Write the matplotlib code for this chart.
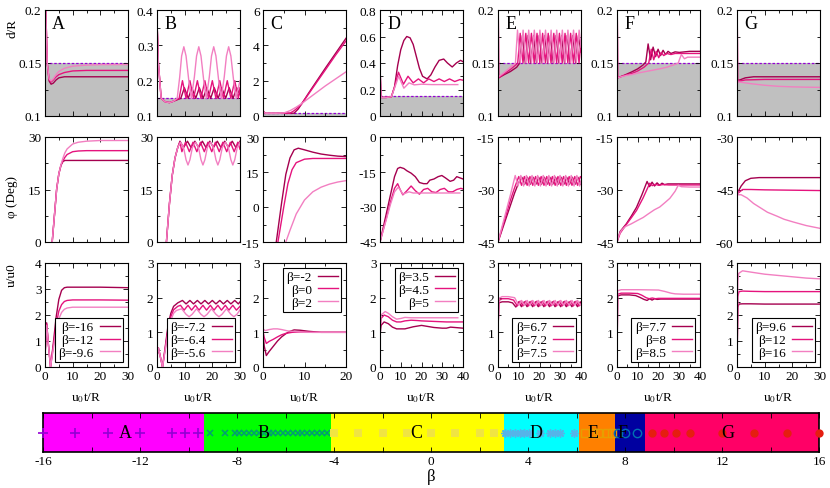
import matplotlib
matplotlib.use("Agg")
import matplotlib.pyplot as plt
from matplotlib.ticker import MultipleLocator, FuncFormatter

plt.rcParams['font.family'] = ['Liberation Serif', 'DejaVu Serif']
plt.rcParams['mathtext.fontset'] = 'stix'
plt.rcParams['axes.unicode_minus'] = False
plt.rcParams['font.size'] = 9.5

DARK, MID, LIGHT = '#a5004f', '#e5137d', '#f27fc1'
THRESH = 0.15

# ---------------- column A ----------------
tA_d = [0, 0.3, 0.8, 1.5, 2.2, 3, 4, 5, 7, 10, 15, 20, 30]
A_d_dark = [0.35, 0.2, 0.15, 0.133, 0.130, 0.131, 0.134, 0.136, 0.137, 0.137, 0.137, 0.137, 0.137]
A_d_mid = [0.35, 0.2, 0.15, 0.134, 0.132, 0.134, 0.137, 0.139, 0.141, 0.1425, 0.143, 0.143, 0.143]
A_d_light = [0.35, 0.2, 0.15, 0.135, 0.133, 0.135, 0.139, 0.142, 0.145, 0.147, 0.148, 0.1485, 0.1485]

tA_p = [0, 2.6, 3.4, 4.2, 5.0, 5.8, 6.5, 7.2, 8, 10, 12, 15, 20, 30]
A_p_dark = [-45, 0, 7.5, 15, 19.5, 22, 23, 23.3, 23.3, 23.3, 23.3, 23.3, 23.3, 23.3]
A_p_mid = [-45, 0, 7.5, 15, 19.5, 22, 23.2, 24.2, 25, 25.8, 26, 26.1, 26.1, 26.1]
A_p_light = [-45, 0, 7.5, 15, 19.5, 22.2, 24, 25.5, 26.6, 28, 28.5, 28.8, 29, 29]

tA_u = [0, 0.6, 1.2, 2.0, 3, 4, 5, 6, 7, 8, 10, 20, 30]
A_u_dark = [0.4, 1.7, 0.9, 0.0, 0.9, 1.9, 2.6, 2.95, 3.05, 3.07, 3.07, 3.07, 3.05]
A_u_mid = [0.4, 1.65, 0.9, 0.0, 0.8, 1.6, 2.15, 2.4, 2.52, 2.56, 2.58, 2.58, 2.57]
A_u_light = [0.4, 1.6, 0.9, 0.0, 0.7, 1.4, 1.85, 2.1, 2.22, 2.27, 2.3, 2.3, 2.3]

# ---------------- column B ----------------
tB_dd = [0, 0.5, 1.5, 3, 4.5, 6, 8.6, 9.9, 11.3, 12.6, 14.0, 15.3, 16.7, 18.0, 19.4, 20.7,
         22.1, 23.4, 24.8, 26.1, 27.5, 28.8, 30]
B_d_dark = [0.37, 0.25, 0.15, 0.14, 0.138, 0.142, 0.15, 0.18, 0.15, 0.18, 0.15, 0.18, 0.15,
            0.18, 0.15, 0.18, 0.15, 0.18, 0.15, 0.18, 0.15, 0.18, 0.16]
tB_dm = [0, 0.5, 1.5, 3, 4.5, 6, 8.0, 9.2, 10.5, 11.9, 13.2, 14.6, 15.9, 17.3, 18.6, 20.0,
         21.3, 22.7, 24.0, 25.4, 26.7, 28.1, 29.4, 30]
B_d_mid = [0.37, 0.25, 0.15, 0.14, 0.138, 0.142, 0.15, 0.2, 0.15, 0.2, 0.15, 0.2, 0.15, 0.2,
           0.15, 0.2, 0.15, 0.2, 0.15, 0.2, 0.15, 0.2, 0.15, 0.18]
tB_dl = [0, 0.5, 1.5, 3, 4.5, 6, 7.3, 8.2, 8.9, 9.7, 10.5, 11.5, 12.4, 13.5, 14.3, 15.1, 15.9,
         16.9, 17.8, 18.9, 19.7, 20.5, 21.3, 22.3, 23.2, 24.3, 25.1, 25.9, 26.7, 27.7, 28.6,
         29.4, 30]
B_d_light = [0.37, 0.25, 0.15, 0.14, 0.138, 0.142, 0.15, 0.21, 0.27, 0.296, 0.27, 0.2, 0.15,
             0.21, 0.27, 0.296, 0.27, 0.2, 0.15, 0.21, 0.27, 0.296, 0.27, 0.2, 0.15, 0.21,
             0.27, 0.296, 0.27, 0.2, 0.15, 0.18, 0.2]

tB_pd = [0, 3.4, 4.5, 5.5, 6.5, 7.5, 8.3, 9.6, 11.0, 12.3, 13.7, 15.0, 16.4, 17.7, 19.1,
         20.4, 21.8, 23.1, 24.5, 25.8, 27.2, 28.5, 30]
B_p_dark = [-45, 0, 11, 19, 24, 27, 28.8, 27, 28.8, 27, 28.8, 27, 28.8, 27, 28.8, 27, 28.8,
            27, 28.8, 27, 28.8, 27, 28.8]
tB_pm = [0, 3.4, 4.5, 5.5, 6.5, 7.5, 8.3, 9.0, 10.3, 11.7, 13.0, 14.4, 15.7, 17.1, 18.4,
         19.8, 21.1, 22.5, 23.8, 25.2, 26.5, 27.9, 29.2, 30]
B_p_mid = [-45, 0, 11, 19, 24, 27, 28.5, 25.8, 28.5, 25.8, 28.5, 25.8, 28.5, 25.8, 28.5,
           25.8, 28.5, 25.8, 28.5, 25.8, 28.5, 25.8, 28.5, 26.5]
tB_pl = [0, 3.4, 4.5, 5.5, 6.5, 7.5, 8.5, 9.6, 10.5, 11.2, 11.9, 12.8, 13.9, 15.0, 15.9,
         16.6, 17.3, 18.2, 19.3, 20.4, 21.3, 22.0, 22.7, 23.6, 24.7, 25.8, 26.7, 27.4, 28.1,
         29.0, 30]
B_p_light = [-45, 0, 11, 19, 24, 27, 28.5, 27, 23.5, 22, 23.5, 27, 28.5, 27, 23.5, 22, 23.5,
             27, 28.5, 27, 23.5, 22, 23.5, 27, 28.5, 27, 23.5, 22, 23.5, 27, 28.5]

tB_ud = [0, 0.5, 1.2, 2, 3, 4, 5, 6, 7.5, 9.2, 10.5, 11.9, 13.2, 14.6, 15.9, 17.3, 18.6,
         20.0, 21.3, 22.7, 24.0, 25.4, 26.7, 28.1, 29.4, 30]
B_u_dark = [0.3, 0.55, 0.3, 0, 0.6, 1.2, 1.55, 1.75, 1.85, 1.92, 1.82, 1.92, 1.82, 1.92,
            1.82, 1.92, 1.82, 1.92, 1.82, 1.92, 1.82, 1.92, 1.82, 1.92, 1.82, 1.88]
tB_um = [0, 0.5, 1.2, 2, 3, 4, 5, 6, 7.5, 8.5, 9.8, 11.2, 12.5, 13.9, 15.2, 16.6, 17.9,
         19.3, 20.6, 22.0, 23.3, 24.7, 26.0, 27.4, 28.7, 30]
B_u_mid = [0.3, 0.55, 0.3, 0, 0.55, 1.1, 1.45, 1.65, 1.75, 1.78, 1.64, 1.78, 1.64, 1.78,
           1.64, 1.78, 1.64, 1.78, 1.64, 1.78, 1.64, 1.78, 1.64, 1.78, 1.64, 1.75]
tB_ul = [0, 0.5, 1.2, 2, 3, 4, 5, 6, 7, 8.9, 10.5, 11.6, 12.7, 14.3, 15.9, 17.0, 18.1, 19.7,
         21.3, 22.4, 23.5, 25.1, 26.7, 27.8, 28.9, 30]
B_u_light = [0.3, 0.55, 0.3, 0, 0.5, 1.0, 1.35, 1.55, 1.63, 1.68, 1.52, 1.45, 1.52, 1.68,
             1.52, 1.45, 1.52, 1.68, 1.52, 1.45, 1.52, 1.68, 1.52, 1.45, 1.52, 1.65]

# ---------------- column C ----------------
tC_dd = [0, 0.5, 3, 7.5, 8.5, 9.3, 11, 13, 15, 17.5, 20]
C_d_dark = [0.3, 0.15, 0.15, 0.16, 0.4, 0.68, 1.3, 2.0, 2.7, 3.55, 4.4]
tC_dm = [0, 0.5, 3, 6.5, 7.5, 8.5, 9.3, 11, 13, 15, 17.5, 20]
C_d_mid = [0.3, 0.15, 0.15, 0.16, 0.3, 0.5, 0.68, 1.25, 1.93, 2.6, 3.45, 4.25]
tC_dl = [0, 0.5, 3, 5, 6.5, 8, 9.3, 11, 13, 15, 17.5, 20]
C_d_light = [0.3, 0.15, 0.15, 0.17, 0.3, 0.5, 0.7, 1.0, 1.35, 1.7, 2.1, 2.5]

tC_pd = [0, 3.2, 4.5, 5.5, 6.5, 7.5, 8.5, 10, 12, 14, 16, 18, 20]
C_p_dark = [-45, -15, 2, 14, 21, 24.5, 25.2, 24.5, 23.5, 22.7, 22.2, 21.8, 21.6]
tC_pm = [0, 3.6, 5, 6, 7, 8, 10, 12, 15, 20]
C_p_mid = [-45, -15, 0, 10, 16, 19, 20.5, 20.8, 20.8, 20.8]
tC_pl = [0, 5.5, 6.5, 8, 10, 12, 14, 16, 18, 20]
C_p_light = [-45, -15, -10, -3, 3, 6.5, 8.5, 9.8, 10.7, 11.3]

tC_ud = [0, 0.3, 0.8, 1.5, 2.5, 3.5, 4.5, 5.5, 6.5, 7.5, 9, 11, 14, 20]
C_u_dark = [1.0, 0.6, 0.33, 0.45, 0.6, 0.75, 0.87, 0.96, 1.03, 1.07, 1.06, 1.03, 1.0, 1.0]
tC_um = [0, 0.3, 0.8, 1.5, 2.5, 3.5, 4.5, 5.5, 7, 9, 12, 20]
C_u_mid = [1.05, 0.85, 0.68, 0.74, 0.8, 0.87, 0.93, 0.97, 1.0, 1.01, 1.0, 1.0]
tC_ul = [0, 0.5, 1.5, 2.5, 3.5, 4.5, 6, 8, 10, 14, 20]
C_u_light = [1.1, 1.05, 1.08, 1.1, 1.1, 1.08, 1.04, 1.02, 1.0, 1.0, 1.0]

# ---------------- column D ----------------
tD_dd = [0, 0.5, 3, 5.5, 7, 8.5, 10, 11.5, 12.9, 14.5, 16, 17.5, 19, 20.5, 22.7, 24.5, 26.5,
         28.5, 30.7, 32.5, 34.8, 36.8, 38.8, 40]
D_d_dark = [0.37, 0.14, 0.14, 0.145, 0.22, 0.38, 0.5, 0.57, 0.60, 0.59, 0.54, 0.45, 0.36, 0.3,
            0.28, 0.31, 0.37, 0.42, 0.43, 0.40, 0.37, 0.40, 0.42, 0.41]
tD_dm = [0, 0.5, 3, 5.5, 7, 8.9, 11.3, 13.5, 16, 18.5, 21, 23.5, 26, 28.5, 31, 33.5, 36, 38.5, 40]
D_d_mid = [0.37, 0.14, 0.14, 0.145, 0.22, 0.33, 0.24, 0.30, 0.25, 0.28, 0.25, 0.28, 0.26, 0.28,
           0.26, 0.28, 0.26, 0.275, 0.27]
tD_dl = [0, 0.5, 3, 5.5, 7, 9, 11.5, 14, 16.5, 20, 25, 30, 35, 37.5]
D_d_light = [0.37, 0.14, 0.14, 0.145, 0.21, 0.30, 0.21, 0.25, 0.235, 0.24, 0.237, 0.237, 0.237, 0.237]

tD_pd = [0, 3, 5, 7, 8.5, 9.7, 11.5, 13, 15, 17, 19, 21, 22.7, 24, 26, 28, 29.8, 31.5, 33.8,
         35.5, 37, 38.5, 40]
D_p_dark = [-45, -33, -25, -17, -13.5, -13, -13.5, -14.5, -15.5, -17, -19.5, -20, -20, -18.5,
            -18, -17, -16.5, -17.5, -19, -18.5, -17, -17.5, -18]
tD_pm = [0, 3, 5, 7, 8.5, 9.7, 11, 13, 15, 17, 19, 21, 23, 25, 27, 29, 31, 33, 35, 37, 39, 40]
D_p_mid = [-45, -35, -28, -22, -20, -22.5, -24.8, -23, -21, -23, -24.5, -22.5, -22, -23.5,
           -23.8, -22.5, -22, -23.5, -23.5, -22.5, -22, -22.3]
tD_pl = [0, 3, 5, 7, 8.8, 10, 11, 12.5, 14, 16, 20, 25, 30, 35, 38.5]
D_p_light = [-45, -35.5, -29, -23.5, -21.5, -23, -24.5, -24, -23.5, -24, -24, -24, -24, -24, -24]

tD_ud = [0, 0.5, 2, 4, 6, 8, 10, 12, 14, 16, 18, 20, 22, 24, 26, 28, 30, 32, 34, 36, 38, 40]
D_u_dark = [0.9, 1.2, 1.3, 1.25, 1.15, 1.1, 1.1, 1.1, 1.13, 1.16, 1.18, 1.2, 1.18, 1.16, 1.14,
            1.13, 1.12, 1.12, 1.15, 1.14, 1.13, 1.12]
tD_um = [0, 0.5, 2, 4, 6, 8, 10, 12, 15, 18, 20, 24, 28, 32, 36, 40]
D_u_mid = [1.0, 1.4, 1.5, 1.45, 1.35, 1.3, 1.3, 1.33, 1.35, 1.34, 1.33, 1.32, 1.31, 1.3, 1.3, 1.3]
tD_ul = [0, 0.5, 2.5, 4, 6, 8, 10, 12, 15, 20, 25, 30, 35, 37.5]
D_u_light = [1.1, 1.5, 1.6, 1.55, 1.45, 1.38, 1.4, 1.43, 1.42, 1.42, 1.42, 1.42, 1.42, 1.42]

# ---------------- column E ----------------
tE_dd = [0, 0.3, 3, 6, 9, 10.5, 11.8, 13.15, 14.5, 15.85, 17.2, 18.55, 19.9, 21.25, 22.6,
         23.95, 25.3, 26.65, 28.0, 29.35, 30.7, 32.05, 33.4, 34.75, 36.1, 37.45, 38.8, 40]
E_d_dark = [0.25, 0.136, 0.139, 0.142, 0.146, 0.15, 0.176, 0.15, 0.176, 0.15, 0.176, 0.15,
            0.176, 0.15, 0.176, 0.15, 0.176, 0.15, 0.176, 0.15, 0.176, 0.15, 0.176, 0.15,
            0.176, 0.15, 0.176, 0.16]
tE_dm = [0, 0.3, 3, 6, 8.5, 9.5, 10.7, 12.05, 13.4, 14.75, 16.1, 17.45, 18.8, 20.15, 21.5,
         22.85, 24.2, 25.55, 26.9, 28.25, 29.6, 30.95, 32.3, 33.65, 35.0, 36.35, 37.7, 39.05, 40]
E_d_mid = [0.25, 0.136, 0.14, 0.144, 0.148, 0.15, 0.178, 0.15, 0.178, 0.15, 0.178, 0.15,
           0.178, 0.15, 0.178, 0.15, 0.178, 0.15, 0.178, 0.15, 0.178, 0.15, 0.178, 0.15,
           0.178, 0.15, 0.178, 0.15, 0.17]
tE_dl = [0, 0.3, 3, 6, 8.4, 9.4, 10.75, 12.1, 13.45, 14.8, 16.15, 17.5, 18.85, 20.2, 21.55,
         22.9, 24.25, 25.6, 26.95, 28.3, 29.65, 31.0, 32.35, 33.7, 35.05, 36.4, 37.75, 39.1, 40]
E_d_light = [0.25, 0.137, 0.141, 0.146, 0.15, 0.181, 0.15, 0.181, 0.15, 0.181, 0.15, 0.181,
             0.15, 0.181, 0.15, 0.181, 0.15, 0.181, 0.15, 0.181, 0.15, 0.181, 0.15, 0.181,
             0.15, 0.181, 0.15, 0.181, 0.165]

tE_pd = [0, 2, 4, 6, 8, 10, 11.5, 12.85, 14.2, 15.55, 16.9, 18.25, 19.6, 20.95, 22.3, 23.65,
         25.0, 26.35, 27.7, 29.05, 30.4, 31.75, 33.1, 34.45, 35.8, 37.15, 38.5, 39.85, 40]
E_p_dark = [-45, -41.5, -38, -34.5, -31, -28, -26.5, -28.5, -26.5, -28.5, -26.5, -28.5, -26.5,
            -28.5, -26.5, -28.5, -26.5, -28.5, -26.5, -28.5, -26.5, -28.5, -26.5, -28.5,
            -26.5, -28.5, -26.5, -28.5, -28]
tE_pm = [0, 2, 4, 6, 8, 10, 11.35, 12.7, 14.05, 15.4, 16.75, 18.1, 19.45, 20.8, 22.15, 23.5,
         24.85, 26.2, 27.55, 28.9, 30.25, 31.6, 32.95, 34.3, 35.65, 37.0, 38.35, 39.7, 40]
E_p_mid = [-45, -41, -37, -33, -29.5, -26.3, -28.8, -26.3, -28.8, -26.3, -28.8, -26.3, -28.8,
           -26.3, -28.8, -26.3, -28.8, -26.3, -28.8, -26.3, -28.8, -26.3, -28.8, -26.3,
           -28.8, -26.3, -28.8, -26.3, -26.5]
tE_pl = [0, 2, 4, 6, 8.3, 9.65, 11.0, 12.35, 13.7, 15.05, 16.4, 17.75, 19.1, 20.45, 21.8,
         23.15, 24.5, 25.85, 27.2, 28.55, 29.9, 31.25, 32.6, 33.95, 35.3, 36.65, 38.0, 39.35, 40]
E_p_light = [-45, -40.5, -36, -31.5, -26, -29, -26, -29, -26, -29, -26, -29, -26, -29, -26,
             -29, -26, -29, -26, -29, -26, -29, -26, -29, -26, -29, -26, -29, -27.5]

tE_ud = [0, 0.4, 2, 5, 7, 8.6, 9.95, 11.3, 12.65, 14.0, 15.35, 16.7, 18.05, 19.4, 20.75, 22.1,
         23.45, 24.8, 26.15, 27.5, 28.85, 30.2, 31.55, 32.9, 34.25, 35.6, 36.95, 38.3, 39.65, 40]
E_u_dark = [1.0, 1.85, 1.88, 1.88, 1.85, 1.73, 1.88, 1.74, 1.88, 1.74, 1.88, 1.74, 1.88, 1.74,
            1.88, 1.74, 1.88, 1.74, 1.88, 1.74, 1.88, 1.74, 1.88, 1.74, 1.88, 1.74, 1.88,
            1.74, 1.88, 1.85]
tE_um = [0, 0.4, 2, 5, 7.5, 9.3, 10.65, 12.0, 13.35, 14.7, 16.05, 17.4, 18.75, 20.1, 21.45,
         22.8, 24.15, 25.5, 26.85, 28.2, 29.55, 30.9, 32.25, 33.6, 34.95, 36.3, 37.65, 39.0, 40]
E_u_mid = [1.0, 1.92, 1.97, 1.97, 1.93, 1.76, 1.9, 1.76, 1.9, 1.76, 1.9, 1.76, 1.9, 1.76, 1.9,
           1.76, 1.9, 1.76, 1.9, 1.76, 1.9, 1.76, 1.9, 1.76, 1.9, 1.76, 1.9, 1.76, 1.82]
tE_ul = [0, 0.4, 2, 5, 8, 10.0, 11.35, 12.7, 14.05, 15.4, 16.75, 18.1, 19.45, 20.8, 22.15,
         23.5, 24.85, 26.2, 27.55, 28.9, 30.25, 31.6, 32.95, 34.3, 35.65, 37.0, 38.35, 39.7, 40]
E_u_light = [1.0, 1.98, 2.03, 2.03, 2.0, 1.78, 1.92, 1.78, 1.92, 1.78, 1.92, 1.78, 1.92, 1.78,
             1.92, 1.78, 1.92, 1.78, 1.92, 1.78, 1.92, 1.78, 1.92, 1.78, 1.92, 1.78, 1.92,
             1.78, 1.8]

# ---------------- column F ----------------
tF_dd = [0, 0.3, 3, 7, 10, 12.5, 13.9, 15.0, 16.2, 17.4, 18.6, 19.8, 21, 22.2, 23.4, 24.6, 26,
         28, 30, 35, 40]
F_d_dark = [0.25, 0.136, 0.138, 0.1415, 0.1445, 0.148, 0.151, 0.168, 0.153, 0.165, 0.156,
            0.163, 0.157, 0.162, 0.158, 0.161, 0.159, 0.1605, 0.16, 0.161, 0.161]
tF_dm = [0, 0.3, 3, 7, 10, 13, 15.3, 16.5, 17.7, 18.9, 20.1, 21.3, 22.5, 24, 26, 28, 32, 36, 40]
F_d_mid = [0.25, 0.136, 0.138, 0.140, 0.1425, 0.146, 0.15, 0.163, 0.153, 0.161, 0.155, 0.16,
           0.157, 0.159, 0.158, 0.159, 0.159, 0.159, 0.159]
tF_dl = [0, 0.3, 2, 5, 7, 10, 14, 18, 20.6, 24, 27, 29.5, 31.0, 32.5, 34, 37, 40]
F_d_light = [0.25, 0.136, 0.137, 0.1385, 0.139, 0.1405, 0.142, 0.1435, 0.1445, 0.146, 0.148,
             0.150, 0.158, 0.154, 0.1555, 0.1555, 0.1555]

tF_pd = [0, 1.5, 4.5, 7, 9.4, 12, 14.5, 15.7, 16.9, 18.1, 19.3, 20.5, 21.7, 22.9, 24.5, 27, 30, 35, 40]
F_p_dark = [-45, -42, -39.8, -37.5, -35.1, -31.5, -27.7, -29.2, -27.9, -29.0, -28.1, -28.8,
            -28.2, -28.6, -28.4, -28.4, -28.4, -28.4, -28.4]
tF_pm = [0, 1.5, 4.5, 7, 9.4, 12.5, 15.8, 17, 18.5, 20, 22, 25, 30, 35, 40]
F_p_mid = [-45, -42.5, -40, -38, -36, -32.5, -28.2, -28.9, -28.5, -28.8, -28.6, -28.7, -28.7,
           -28.7, -28.7]
tF_pl = [0, 1, 2.1, 4, 6.9, 10, 12.6, 15, 18, 20.6, 23, 25.5, 28, 29.5, 31, 35, 40]
F_p_light = [-45, -43, -41.7, -40.6, -39.8, -38.8, -38, -37, -35.8, -35, -33.8, -32.5, -30.5,
             -28.8, -29.2, -29.3, -29.3]

tF_ud = [0, 0.3, 2, 6, 9, 11, 13, 14.5, 15.7, 16.9, 18.1, 19.3, 21, 25, 30, 40]
F_u_dark = [0, 2.05, 2.08, 2.08, 2.06, 2.01, 1.95, 1.92, 1.97, 1.93, 1.97, 1.95, 1.96, 1.96, 1.96, 1.96]
tF_um = [0, 0.3, 2, 6, 10, 12, 14, 15.5, 17, 18.5, 20, 24, 30, 40]
F_u_mid = [0, 2.1, 2.13, 2.13, 2.12, 2.07, 2.0, 1.97, 1.99, 1.97, 1.98, 1.98, 1.98, 1.98]
tF_ul = [0, 0.3, 2, 10, 20, 23, 26, 28, 32, 36, 40]
F_u_light = [0, 2.2, 2.23, 2.23, 2.22, 2.18, 2.13, 2.11, 2.1, 2.1, 2.1]

# ---------------- column G ----------------
tG_dd = [0, 0.2, 1, 3, 6, 10, 20, 30]
G_d_dark = [0.25, 0.134, 0.134, 0.136, 0.137, 0.137, 0.137, 0.137]
tG_dm = [0, 0.2, 1, 3, 10, 20, 30]
G_d_mid = [0.25, 0.133, 0.133, 0.134, 0.1345, 0.1345, 0.1345]
tG_dl = [0, 0.2, 1, 5, 10, 15, 20, 25, 30]
G_d_light = [0.25, 0.132, 0.132, 0.1305, 0.129, 0.128, 0.1275, 0.1272, 0.127]

tG_pd = [0, 0.5, 1.5, 3, 5, 8, 15, 30]
G_p_dark = [-45, -45.5, -44, -42.5, -41.8, -41.6, -41.6, -41.6]
tG_pm = [0, 0.5, 2, 5, 10, 20, 30]
G_p_mid = [-45, -46, -45, -45, -45.1, -45.2, -45.3]
tG_pl = [0, 0.5, 1.5, 3.6, 6, 8.4, 11, 14.4, 17, 20.4, 25, 30]
G_p_light = [-45, -46.5, -46.5, -47.4, -49, -50.2, -51.5, -52.6, -53.5, -54.3, -55.3, -56.1]

tG_ud = [0, 0.3, 0.7, 2, 5, 10, 20, 30]
G_u_dark = [0, 2.3, 2.42, 2.43, 2.43, 2.42, 2.42, 2.42]
tG_um = [0, 0.3, 0.7, 2, 5, 10, 20, 30]
G_u_mid = [0, 2.7, 2.9, 2.92, 2.91, 2.9, 2.9, 2.9]
tG_ul = [0, 0.3, 0.6, 2, 5, 10, 15, 20, 25, 30]
G_u_light = [0, 3.3, 3.6, 3.7, 3.65, 3.57, 3.52, 3.47, 3.42, 3.39]

# legends
labels_A = ['β=-16', 'β=-12', 'β=-9.6']
labels_B = ['β=-7.2', 'β=-6.4', 'β=-5.6']
labels_C = ['β=-2', 'β=0', 'β=2']
labels_D = ['β=3.5', 'β=4.5', 'β=5']
labels_E = ['β=6.7', 'β=7.2', 'β=7.5']
labels_F = ['β=7.7', 'β=8', 'β=8.5']
labels_G = ['β=9.6', 'β=12', 'β=16']

# phase diagram strip
region_names = ['A', 'B', 'C', 'D', 'E', 'F', 'G']
region_edges = [-16, -9.35, -4.13, 3.0, 6.12, 7.57, 8.82, 16]
region_colors = ['#ff00ff', '#00ff00', '#ffff00', '#00ffff', '#ff8000', '#0000a0', '#ff0066']
region_label_x = [-12.6, -6.9, -0.6, 4.35, 6.7, 7.9, 12.25]
beta_A = [-16, -14.67, -13.33, -12, -10.67, -10.13, -9.6]
beta_B = [-9.1, -8.5, -8.1, -7.9, -7.7, -7.5, -7.3, -7.1, -6.9, -6.7, -6.5, -6.3, -6.1, -5.9,
          -5.7, -5.5, -5.3, -5.1, -4.9, -4.7, -4.5, -4.3]
beta_C = [-4, -3, -2, -1, 0, 1, 2, 2.6]
beta_D = [3.05, 3.25, 3.45, 3.65, 3.85, 4.05, 4.5, 4.9, 5.1, 5.3, 5.9]
beta_E = [6.35, 6.7, 6.9, 7.25, 7.45]
beta_F = [7.7, 8.0, 8.5]
beta_G = [9.1, 9.6, 10.1, 10.7, 12, 13.3, 14.7, 16]

columns = {
    'A': dict(xmax=30, d=[(tA_d, A_d_dark), (tA_d, A_d_mid), (tA_d, A_d_light)],
              p=[(tA_p, A_p_dark), (tA_p, A_p_mid), (tA_p, A_p_light)],
              u=[(tA_u, A_u_dark), (tA_u, A_u_mid), (tA_u, A_u_light)],
              dlim=(0.1, 0.2, 0.05), plim=(0, 30, 15), ulim=(0, 4, 1), labels=labels_A, loc='lower right'),
    'B': dict(xmax=30, d=[(tB_dd, B_d_dark), (tB_dm, B_d_mid), (tB_dl, B_d_light)],
              p=[(tB_pd, B_p_dark), (tB_pm, B_p_mid), (tB_pl, B_p_light)],
              u=[(tB_ud, B_u_dark), (tB_um, B_u_mid), (tB_ul, B_u_light)],
              dlim=(0.1, 0.4, 0.1), plim=(0, 30, 15), ulim=(0, 3, 1), labels=labels_B, loc='lower right'),
    'C': dict(xmax=20, d=[(tC_dd, C_d_dark), (tC_dm, C_d_mid), (tC_dl, C_d_light)],
              p=[(tC_pd, C_p_dark), (tC_pm, C_p_mid), (tC_pl, C_p_light)],
              u=[(tC_ud, C_u_dark), (tC_um, C_u_mid), (tC_ul, C_u_light)],
              dlim=(0, 6, 2), plim=(-15, 30, 15), ulim=(0, 3, 1), labels=labels_C, loc='upper right'),
    'D': dict(xmax=40, d=[(tD_dd, D_d_dark), (tD_dm, D_d_mid), (tD_dl, D_d_light)],
              p=[(tD_pd, D_p_dark), (tD_pm, D_p_mid), (tD_pl, D_p_light)],
              u=[(tD_ud, D_u_dark), (tD_um, D_u_mid), (tD_ul, D_u_light)],
              dlim=(0, 0.8, 0.2), plim=(-45, 0, 15), ulim=(0, 3, 1), labels=labels_D, loc='upper right'),
    'E': dict(xmax=40, d=[(tE_dd, E_d_dark), (tE_dm, E_d_mid), (tE_dl, E_d_light)],
              p=[(tE_pd, E_p_dark), (tE_pm, E_p_mid), (tE_pl, E_p_light)],
              u=[(tE_ud, E_u_dark), (tE_um, E_u_mid), (tE_ul, E_u_light)],
              dlim=(0.1, 0.2, 0.05), plim=(-45, -15, 15), ulim=(0, 3, 1), labels=labels_E, loc='lower right'),
    'F': dict(xmax=40, d=[(tF_dd, F_d_dark), (tF_dm, F_d_mid), (tF_dl, F_d_light)],
              p=[(tF_pd, F_p_dark), (tF_pm, F_p_mid), (tF_pl, F_p_light)],
              u=[(tF_ud, F_u_dark), (tF_um, F_u_mid), (tF_ul, F_u_light)],
              dlim=(0.1, 0.2, 0.05), plim=(-45, -15, 15), ulim=(0, 3, 1), labels=labels_F, loc='lower right'),
    'G': dict(xmax=30, d=[(tG_dd, G_d_dark), (tG_dm, G_d_mid), (tG_dl, G_d_light)],
              p=[(tG_pd, G_p_dark), (tG_pm, G_p_mid), (tG_pl, G_p_light)],
              u=[(tG_ud, G_u_dark), (tG_um, G_u_mid), (tG_ul, G_u_light)],
              dlim=(0.1, 0.2, 0.05), plim=(-60, -30, 15), ulim=(0, 4, 1), labels=labels_G, loc='lower right'),
}

W, H = 830, 489
COL_LEFT = [45, 157, 263, 380, 498, 617, 737]
COL_W = 83
ROW_TOP = [11, 138, 264]
ROW_H = [106, 105, 104]

fig = plt.figure(figsize=(W / 100, H / 100), dpi=100)


def px_axes(left, top, w, h):
    return fig.add_axes([left / W, 1 - (top + h) / H, w / W, h / H])


fmt = FuncFormatter(lambda v, p: f'{v:g}')


def style(ax, xmax, lim, xlabels):
    lo, hi, step = lim
    ax.set_xlim(0, xmax)
    ax.set_ylim(lo, hi)
    ax.xaxis.set_major_locator(MultipleLocator(10))
    ax.xaxis.set_minor_locator(MultipleLocator(5))
    ax.yaxis.set_major_locator(MultipleLocator(step))
    ax.yaxis.set_minor_locator(MultipleLocator(step / 2))
    ax.yaxis.set_major_formatter(fmt)
    ax.tick_params(which='both', direction='in', top=True, right=True, labelsize=9.5, pad=2.5)
    ax.tick_params(which='major', length=3.5, width=0.6)
    ax.tick_params(which='minor', length=2, width=0.6)
    ax.tick_params(labelbottom=xlabels)
    for s in ax.spines.values():
        s.set_linewidth(0.8)


colors = [DARK, MID, LIGHT]
for i, name in enumerate(region_names):
    c = columns[name]
    left = COL_LEFT[i]
    for r, key in enumerate(['d', 'p', 'u']):
        ax = px_axes(left, ROW_TOP[r], COL_W, ROW_H[r])
        lim = c[key + 'lim']
        lines = []
        for (t, y), col, lab in zip(c[key], colors, c['labels']):
            ln, = ax.plot(t, y, color=col, lw=1.0, label=lab)
            lines.append(ln)
        style(ax, c['xmax'], lim, r == 2)
        if key == 'd':
            ax.axhspan(lim[0], THRESH, color='#c0c0c0', zorder=0, lw=0)
            ax.axhline(THRESH, color='#9400d3', ls=(0, (2, 1.5)), lw=0.9, zorder=1)
            ax.text(0.085, 0.875, name, transform=ax.transAxes, fontsize=13,
                    ha='left', va='center')
        if key == 'u':
            leg = ax.legend(lines, c['labels'], loc=c['loc'], fontsize=9.5, markerfirst=False,
                            fancybox=False, edgecolor='black', framealpha=1,
                            handlelength=1.5, handletextpad=0.5, borderpad=0.25,
                            labelspacing=0.05, borderaxespad=0.35)
            leg.get_frame().set_linewidth(0.8)
            fig.text((left + COL_W / 2) / W, 1 - 398 / H, 'u$_0$t/R', ha='center',
                     va='center', fontsize=9.5)

fig.text(12 / W, 1 - 28 / H, 'd/R', rotation=90, ha='center', va='center', fontsize=9.5)
fig.text(12 / W, 1 - 197 / H, 'φ (Deg)', rotation=90, ha='center', va='center', fontsize=9.5)
fig.text(12 / W, 1 - 275 / H, 'u/u0', rotation=90, ha='center', va='center', fontsize=9.5)

# phase strip
bx = px_axes(43, 414, 776, 39)
for k in range(len(region_names)):
    bx.axvspan(region_edges[k], region_edges[k + 1], color=region_colors[k], lw=0, zorder=0)
mk = dict(ls='none', clip_on=False, zorder=3)
bx.plot(beta_A, [0.5] * len(beta_A), marker='+', ms=6.5, mew=1.2, color='#9400d3', **mk)
bx.plot(beta_B, [0.5] * len(beta_B), marker='x', ms=5, mew=1.1, color='#009e73', **mk)
bx.plot(beta_C, [0.5] * len(beta_C), marker='s', ms=5.5, mew=0, color='#f0e442', **mk)
bx.plot(beta_D, [0.5] * len(beta_D), marker=(8, 2, 0), ms=6, mew=1.0, color='#56b4e9', **mk)
bx.plot(beta_E, [0.5] * len(beta_E), marker='s', ms=5.5, mew=1.0, mfc='none', color='#e69f00', **mk)
bx.plot(beta_F, [0.5] * len(beta_F), marker='o', ms=6, mew=1.0, mfc='none', color='#0072b2', **mk)
bx.plot(beta_G, [0.5] * len(beta_G), marker='o', ms=6, mew=0, color='#e51e10', **mk)
for name, x in zip(region_names, region_label_x):
    bx.text(x, 0.5, name, fontsize=13, ha='center', va='center', zorder=4)
bx.set_xlim(-16, 16)
bx.set_ylim(0, 1)
bx.xaxis.set_major_locator(MultipleLocator(4))
bx.xaxis.set_minor_locator(MultipleLocator(2))
bx.xaxis.set_major_formatter(fmt)
bx.set_yticks([])
bx.tick_params(which='both', direction='in', top=True, labelsize=9.5, pad=2)
bx.tick_params(which='major', length=3.5, width=0.6)
bx.tick_params(which='minor', length=3.5, width=0.6)
for s in bx.spines.values():
    s.set_linewidth(1.2)
fig.text(431 / W, 1 - 477 / H, 'β', ha='center', va='center', fontsize=12)

fig.savefig('out.png', dpi=100)
